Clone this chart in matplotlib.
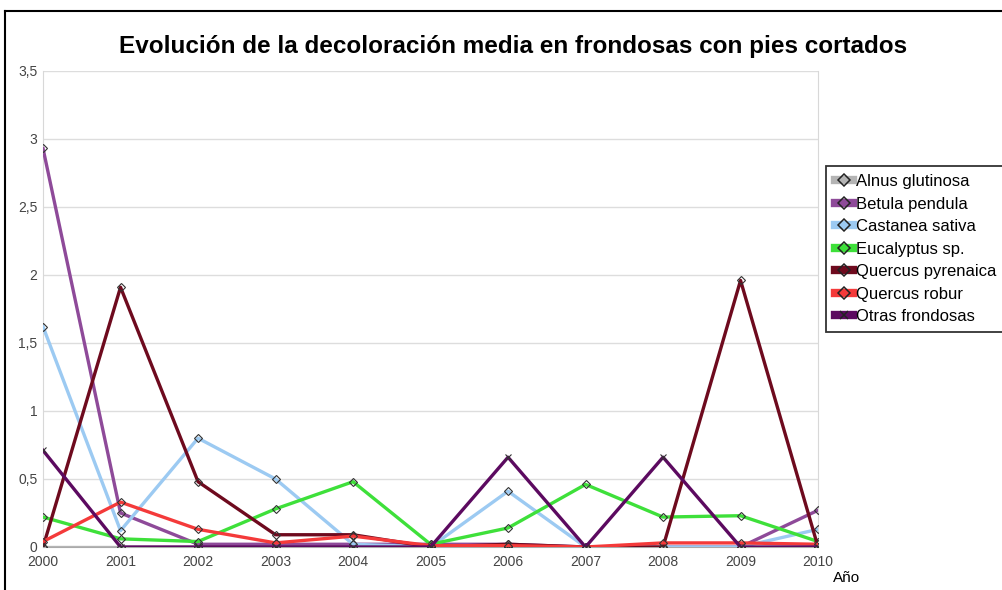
import matplotlib
matplotlib.use('Agg')
import matplotlib.pyplot as plt
from matplotlib.lines import Line2D
from matplotlib.ticker import FuncFormatter

years = [2000, 2001, 2002, 2003, 2004, 2005, 2006, 2007, 2008, 2009, 2010]

alnus = [0, 0, 0, 0, 0, 0, 0, 0, 0, 0, 0]
betula = [2.93, 0.25, 0.02, 0.02, 0.02, 0.02, 0.02, 0, 0, 0, 0.27]
castanea = [1.62, 0.12, 0.80, 0.50, 0.02, 0, 0.41, 0, 0, 0, 0.13]
eucalyptus = [0.22, 0.06, 0.04, 0.28, 0.48, 0.02, 0.14, 0.46, 0.22, 0.23, 0.04]
q_pyrenaica = [0, 1.91, 0.48, 0.09, 0.09, 0, 0.02, 0, 0, 1.96, 0]
q_robur = [0.04, 0.33, 0.13, 0.03, 0.08, 0.01, 0.01, 0, 0.03, 0.03, 0.02]
otras = [0.71, 0, 0, 0, 0, 0, 0.66, 0, 0.66, 0, 0]

series = [
    ('Alnus glutinosa', alnus, '#b4b4b4', 'D'),
    ('Betula pendula', betula, '#8e4a99', 'D'),
    ('Castanea sativa', castanea, '#9ccaf2', 'D'),
    ('Eucalyptus sp.', eucalyptus, '#3ee03a', 'D'),
    ('Quercus pyrenaica', q_pyrenaica, '#6e0a1e', 'D'),
    ('Quercus robur', q_robur, '#f43a3a', 'D'),
    ('Otras frondosas', otras, '#5c0a60', 'x'),
]

plt.rcParams['font.family'] = ['Liberation Sans', 'DejaVu Sans']

fig = plt.figure(figsize=(10.03, 5.90), dpi=100)
ax = fig.add_axes([0.0429, 0.0729, 0.7727, 0.8068])

handles = []
for name, vals, col, mk in series:
    ax.plot(years, vals, color=col, lw=2.4, marker=mk, ms=4,
            mfc='none' if mk == 'D' else col, mec='#333333', mew=0.8, zorder=3)
    handles.append(Line2D([0], [0], color=col, lw=6, marker=mk, ms=6,
                          mfc='none', mec='#222222', mew=1.1))

ax.set_xlim(2000, 2010)
ax.set_ylim(0, 3.5)
ax.set_xticks(years)
ax.set_yticks([0, 0.5, 1, 1.5, 2, 2.5, 3, 3.5])
ax.yaxis.set_major_formatter(FuncFormatter(lambda v, p: f'{v:g}'.replace('.', ',')))
ax.tick_params(length=0, labelsize=10, colors='#444444')
ax.tick_params(axis='x', pad=6)
ax.tick_params(axis='y', pad=4)
ax.grid(axis='y', color='#dddddd', lw=1)
ax.spines['top'].set_visible(False)
for side in ['left', 'right']:
    ax.spines[side].set_color('#d8d8d8')
ax.spines['bottom'].set_color('#aaaaaa')

fig.text(0.512, 0.922, 'Evolución de la decoloración media en frondosas con pies cortados',
         ha='center', va='center', fontsize=17.5, fontweight='bold')
fig.text(0.830, 0.020, 'Año', fontsize=11, ha='left', va='center')

leg = fig.legend(handles, [s[0] for s in series], loc='upper left',
                 bbox_to_anchor=(0.824, 0.719), fontsize=12, frameon=True,
                 fancybox=False, handlelength=1.1, handletextpad=0.2,
                 labelspacing=0.45, borderpad=0.5, borderaxespad=0)
leg.get_frame().set_edgecolor('black')
leg.get_frame().set_linewidth(1.3)

# outer frame
fig.add_artist(Line2D([0.005, 0.005], [0, 0.981], color='black', lw=1.5))
fig.add_artist(Line2D([0.005, 1.0], [0.981, 0.981], color='black', lw=1.5))

fig.savefig('out.png', dpi=100)
